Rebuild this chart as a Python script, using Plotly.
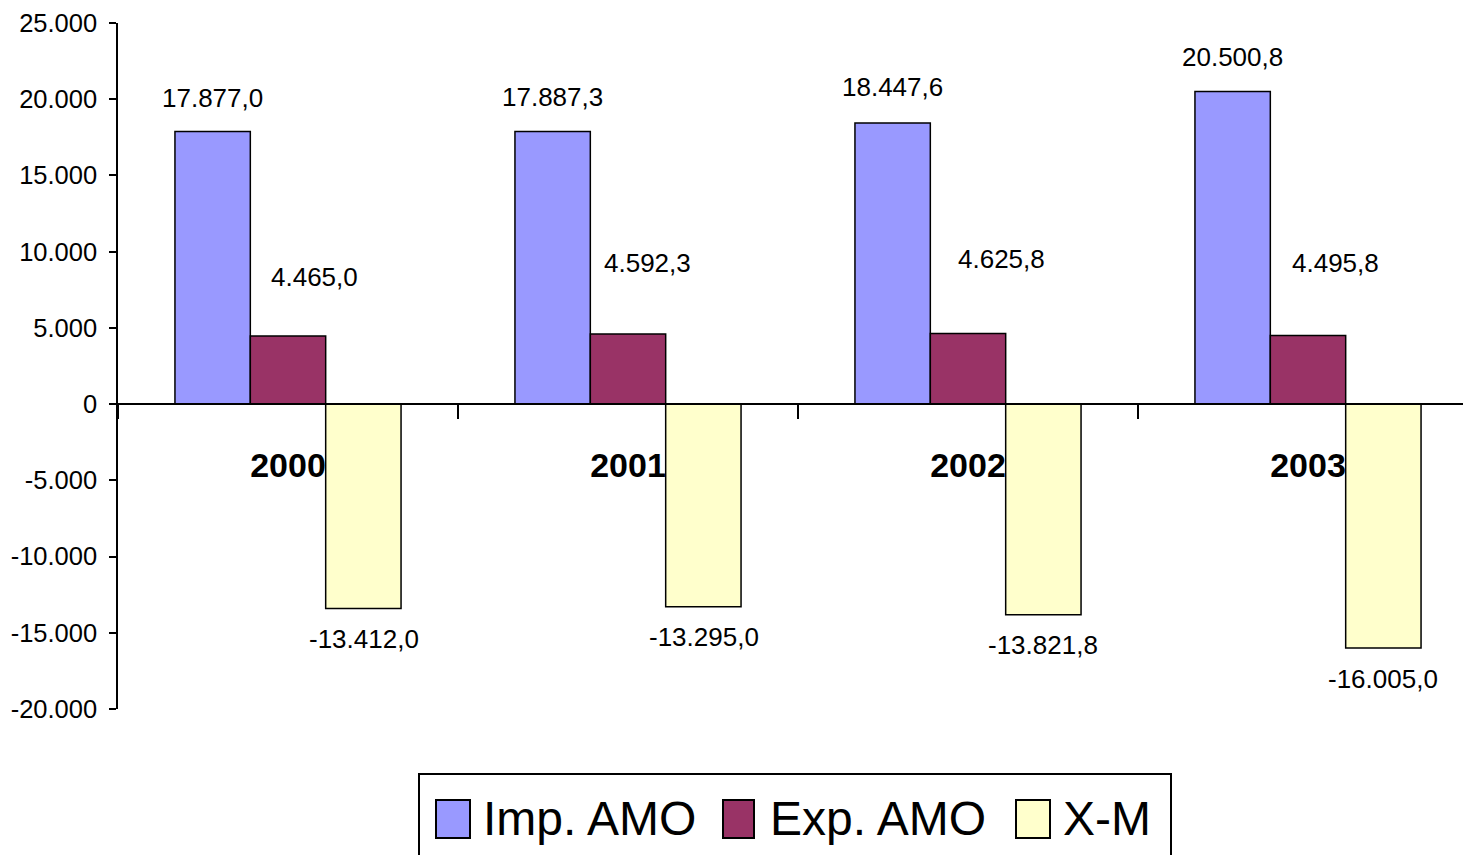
import plotly.graph_objects as go

# ---------------- data ----------------
years = ["2000", "2001", "2002", "2003"]
series_names = ["Imp. AMO", "Exp. AMO", "X-M"]
imp_amo = [17877.0, 17887.3, 18447.6, 20500.8]
exp_amo = [4465.0, 4592.3, 4625.8, 4495.8]
x_m = [-13412.0, -13295.0, -13821.8, -16005.0]
y_ticks = [-20000, -15000, -10000, -5000, 0, 5000, 10000, 15000, 20000, 25000]

# ---------------- styles ----------------
colors = ["#9999FF", "#993366", "#FFFFCC"]
FONT = "Liberation Sans, Arial, sans-serif"
W, H = 1463, 855
PL, PR, PT, PB = 118, 1463, 23, 709  # plot area in pixels
CAT_PX = 340.0                        # pixel width of one category


def fmt_int(v):
    s = f"{abs(v):,.0f}".replace(",", ".")
    return ("-" if v < 0 else "") + s


def fmt_1(v):
    s = f"{abs(v):,.1f}".replace(",", "X").replace(".", ",").replace("X", ".")
    return ("-" if v < 0 else "") + s


def xp(px):
    return (px - PL) / (PR - PL)


def yp(py):
    return (PB - py) / (PB - PT)


all_series = [imp_amo, exp_amo, x_m]

fig = go.Figure()
for name, vals, col in zip(series_names, all_series, colors):
    fig.add_trace(go.Bar(
        x=years, y=vals, name=name, showlegend=False,
        marker=dict(color=col, line=dict(color="black", width=1.5)),
    ))

# data labels (pixel offsets relative to each bar end)
bar_px = CAT_PX * (1 - 0.335) / 3
label_offsets = [
    [(0, 34), (0, 34), (0, 36), (0, 35)],
    [(26, 59), (19, 71), (33, 75), (27, 73)],
    [(1, -30), (1, -30), (0, -30), (0, -31)],
]
annotations = []
for si, vals in enumerate(all_series):
    for ci, v in enumerate(vals):
        dx, dy = label_offsets[si][ci]
        annotations.append(dict(
            x=ci, y=v, xref="x", yref="y", text=fmt_1(v), showarrow=False,
            xshift=dx + (si - 1) * bar_px, yshift=dy,
            font=dict(family=FONT, size=26, color="black"),
            xanchor="center", yanchor="middle",
        ))

# manual legend (big swatches like the original)
shapes = [dict(type="rect", xref="paper", yref="paper",
               x0=xp(419), x1=xp(1171), y0=yp(774), y1=yp(900),
               line=dict(color="black", width=2), fillcolor="white", layer="above")]
legend_items = [(436, 470, 481), (723, 754, 768), (1016, 1050, 1061)]
for (sx0, sx1, tx), name, col in zip(legend_items, series_names, colors):
    shapes.append(dict(type="rect", xref="paper", yref="paper",
                       x0=xp(sx0), x1=xp(sx1), y0=yp(838), y1=yp(800),
                       line=dict(color="black", width=2), fillcolor=col, layer="above"))
    annotations.append(dict(x=xp(tx), y=yp(818), xref="paper", yref="paper",
                            text=name, showarrow=False, xanchor="left", yanchor="middle",
                            font=dict(family=FONT, size=48, color="black")))

fig.update_layout(
    width=W, height=H,
    margin=dict(l=PL, r=W - PR, t=PT, b=H - PB),
    paper_bgcolor="white", plot_bgcolor="white",
    barmode="group", bargap=0.335, bargroupgap=0,
    annotations=annotations, shapes=shapes,
    showlegend=False,
)
fig.update_yaxes(
    range=[-20000, 25000], tickvals=y_ticks, ticktext=[fmt_int(t) for t in y_ticks],
    showgrid=False, zeroline=False, showline=True, linecolor="black", linewidth=1.5,
    ticks="outside", ticklen=7, tickcolor="black", tickwidth=1.5,
    tickfont=dict(family=FONT, size=25.5, color="black"),
    ticklabelstandoff=7,
)
fig.update_xaxes(
    type="category",
    range=[-0.5, -0.5 + (PR - PL) / CAT_PX],
    anchor="free", position=20000 / 45000,
    showgrid=False, zeroline=False, showline=True, linecolor="black", linewidth=2,
    ticks="outside", tickson="boundaries", ticklen=14, tickcolor="black", tickwidth=1.5,
    tickfont=dict(family=FONT, size=34, color="black", weight="bold"),
    ticklabelstandoff=31,
)

fig.write_html("out.html", config={"displayModeBar": False},
               post_script="document.body.style.margin='0';")
